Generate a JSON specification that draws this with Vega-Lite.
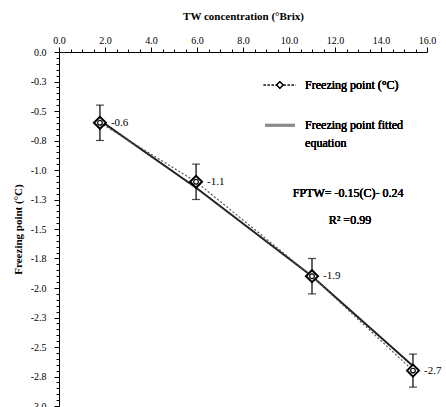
{
  "$schema": "https://vega.github.io/schema/vega-lite/v6.json",
  "width": 368,
  "height": 354,
  "autosize": "none",
  "padding": {"left": 59, "top": 52, "right": 19, "bottom": 1},
  "background": "white",
  "config": {
    "view": {"stroke": null},
    "font": "Liberation Serif",
    "text": {"fontWeight": "normal", "font": "Liberation Serif"},
    "axis": {
      "domainColor": "black",
      "domainWidth": 1,
      "tickColor": "black",
      "tickWidth": 1,
      "labelColor": "black",
      "titleColor": "black",
      "labelFont": "Liberation Serif",
      "titleFont": "Liberation Serif",
      "labelFontSize": 10,
      "titleFontSize": 11,
      "titleFontWeight": "bold",
      "grid": false,
      "ticks": true,
      "labelOverlap": false,
      "labelFlush": false
    },
    "axisX": {
      "tickCount": 32,
      "labelExpr": "round(datum.value * 10) % 20 == 0 ? format(datum.value, '.1f') : ''",
      "tickSize": {"condition": {"test": "round(datum.value * 10) % 20 == 0", "value": 5}, "value": 3},
      "labelPadding": 2,
      "titlePadding": 14
    },
    "axisY": {
      "tickCount": 60,
      "labelExpr": "abs(round(datum.value * 100)) % 25 == 0 ? replace(format(datum.value, '.1f'), '−', '-') : ''",
      "tickSize": {"condition": {"test": "abs(round(datum.value * 100)) % 25 == 0", "value": 5}, "value": 3},
      "labelPadding": 8,
      "titlePadding": 7
    }
  },
  "datasets": {
    "freezing": [
      {"conc": 1.78, "fp": -0.6, "sd": 0.15, "fit": -0.58},
      {"conc": 5.96, "fp": -1.1, "sd": 0.15, "fit": -1.15},
      {"conc": 11.0, "fp": -1.9, "sd": 0.15, "fit": -1.9},
      {"conc": 15.39, "fp": -2.7, "sd": 0.14, "fit": -2.66}
    ]
  },
  "data": {"name": "freezing"},
  "layer": [
    {
      "mark": {"type": "line", "color": "#222222", "strokeWidth": 2},
      "encoding": {
        "x": {"field": "conc", "type": "quantitative", "title": "TW concentration (°Brix)",
          "scale": {"domain": [0, 16], "nice": false}, "axis": {"orient": "top"}},
        "y": {"field": "fit", "type": "quantitative", "title": "Freezing point (°C)",
          "scale": {"domain": [-3, 0], "nice": false}}
      }
    },
    {
      "mark": {"type": "line", "color": "#555555", "strokeWidth": 1.2, "strokeDash": [2, 2]},
      "encoding": {
        "x": {"field": "conc", "type": "quantitative", "title": "TW concentration (°Brix)", "axis": {"orient": "top"}},
        "y": {"field": "fp", "type": "quantitative", "title": "Freezing point (°C)"}
      }
    },
    {
      "mark": {"type": "errorbar", "ticks": {"size": 8, "color": "black", "thickness": 1.2}, "rule": {"color": "black", "strokeWidth": 1.2}},
      "encoding": {
        "x": {"field": "conc", "type": "quantitative", "title": "TW concentration (°Brix)", "axis": {"orient": "top"}},
        "y": {"field": "fp", "type": "quantitative", "title": "Freezing point (°C)"},
        "yError": {"field": "sd"}
      }
    },
    {
      "mark": {"type": "point", "shape": "diamond", "size": 144, "filled": true, "fill": "white", "stroke": "black", "strokeWidth": 2, "opacity": 1},
      "encoding": {
        "x": {"field": "conc", "type": "quantitative", "title": "TW concentration (°Brix)", "axis": {"orient": "top"}},
        "y": {"field": "fp", "type": "quantitative", "title": "Freezing point (°C)"}
      }
    },
    {
      "mark": {"type": "point", "shape": "circle", "size": 22, "filled": false, "stroke": "black", "strokeWidth": 1.2, "opacity": 1},
      "encoding": {
        "x": {"field": "conc", "type": "quantitative", "title": "TW concentration (°Brix)", "axis": {"orient": "top"}},
        "y": {"field": "fp", "type": "quantitative", "title": "Freezing point (°C)"}
      }
    },
    {
      "mark": {"type": "text", "align": "left", "baseline": "middle", "dx": 11, "fontSize": 11, "color": "black",
        "text": {"expr": "replace(format(datum.fp, '.1f'), '−', '-')"}},
      "encoding": {
        "x": {"field": "conc", "type": "quantitative", "title": "TW concentration (°Brix)", "axis": {"orient": "top"}},
        "y": {"field": "fp", "type": "quantitative", "title": "Freezing point (°C)"}
      }
    },
    {
      "mark": {"type": "rule", "color": "#444444", "strokeWidth": 1.2, "strokeDash": [2, 2]},
      "encoding": {
        "x": {"datum": 8.9, "title": "TW concentration (°Brix)", "axis": {"orient": "top"}},
        "x2": {"datum": 10.3},
        "y": {"datum": -0.28, "title": "Freezing point (°C)"}
      }
    },
    {
      "mark": {"type": "point", "shape": "diamond", "size": 40, "filled": true, "fill": "white", "stroke": "black", "strokeWidth": 1.2, "opacity": 1},
      "encoding": {
        "x": {"datum": 9.6, "title": "TW concentration (°Brix)", "axis": {"orient": "top"}},
        "y": {"datum": -0.28, "title": "Freezing point (°C)"}
      }
    },
    {
      "mark": {"type": "text", "align": "left", "baseline": "middle", "fontSize": 12, "fontWeight": "normal", "color": "black", "text": "Freezing point (°C)"},
      "encoding": {
        "x": {"datum": 10.7, "title": "TW concentration (°Brix)", "axis": {"orient": "top"}},
        "y": {"datum": -0.28, "title": "Freezing point (°C)"}
      }
    },
    {
      "mark": {"type": "rule", "color": "#8a8a8a", "strokeWidth": 2.5},
      "encoding": {
        "x": {"datum": 8.96, "title": "TW concentration (°Brix)", "axis": {"orient": "top"}},
        "x2": {"datum": 10.26},
        "y": {"datum": -0.62, "title": "Freezing point (°C)"}
      }
    },
    {
      "mark": {"type": "text", "align": "left", "baseline": "alphabetic", "fontSize": 12, "fontWeight": "normal", "lineHeight": 18, "color": "black",
        "text": ["Freezing point fitted", "equation"]},
      "encoding": {
        "x": {"datum": 10.7, "title": "TW concentration (°Brix)", "axis": {"orient": "top"}},
        "y": {"datum": -0.655, "title": "Freezing point (°C)"}
      }
    },
    {
      "mark": {"type": "text", "align": "center", "baseline": "middle", "fontSize": 12, "fontWeight": "normal", "color": "black", "text": "FPTW= -0.15(C)- 0.24"},
      "encoding": {
        "x": {"datum": 12.57, "title": "TW concentration (°Brix)", "axis": {"orient": "top"}},
        "y": {"datum": -1.195, "title": "Freezing point (°C)"}
      }
    },
    {
      "mark": {"type": "text", "align": "center", "baseline": "middle", "fontSize": 12, "fontWeight": "normal", "color": "black", "text": "R² =0.99"},
      "encoding": {
        "x": {"datum": 12.65, "title": "TW concentration (°Brix)", "axis": {"orient": "top"}},
        "y": {"datum": -1.424, "title": "Freezing point (°C)"}
      }
    }
  ]
}
